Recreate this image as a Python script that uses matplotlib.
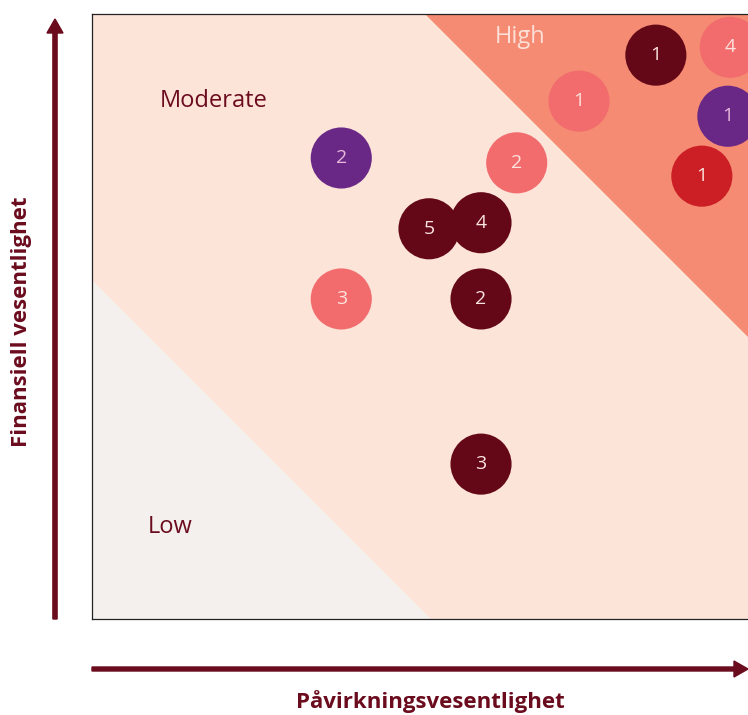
import matplotlib
matplotlib.use("Agg")
import matplotlib.pyplot as plt
from matplotlib.patches import Circle, Polygon, FancyArrow

# ---- data ----
impact = [4.12, 8.05, 9.32, 10.55, 10.51, 10.08, 7.02, 5.57, 6.43, 4.12, 6.43, 6.43]
financial = [7.62, 8.56, 9.32, 9.45, 8.31, 7.32, 7.54, 6.45, 6.55, 5.29, 5.29, 2.56]
labels = ["2", "1", "1", "4", "1", "1", "2", "5", "4", "3", "2", "3"]
groups = ["purple", "pink", "dark", "pink", "purple", "red", "pink", "dark", "dark", "pink", "dark", "dark"]

low_limit = 5.6     # x + y below this -> Low
high_limit = 15.5   # x + y above this -> High
zone_names = ["Low", "Moderate", "High"]
x_title = "Påvirkningsvesentlighet"
y_title = "Finansiell vesentlighet"

# ---- styles ----
fill = {"dark": "#640818", "pink": "#f26c6e", "purple": "#6a2886", "red": "#cc1e25"}
txtc = {"dark": "#fbe3e0", "pink": "#fde3dd", "purple": "#e6b8dc", "red": "#fde3dd"}
maroon = "#6b0c1e"
plt.rcParams["font.family"] = ["Open Sans", "DejaVu Sans"]

W, H = 748, 715
fig = plt.figure(figsize=(W / 100, H / 100), dpi=100)
unit = 60.5
xmax, ymax = 12, 10
ax = fig.add_axes([92 / W, 96 / H, xmax * unit / W, ymax * unit / H])
ax.set_xlim(0, xmax)
ax.set_ylim(0, ymax)
ax.set_facecolor("#fde4d9")
ax.set_xticks([])
ax.set_yticks([])
for s in ax.spines.values():
    s.set_linewidth(0.9)
    s.set_color("#222222")

ax.add_patch(Polygon([(0, 0), (0, low_limit), (low_limit, 0)], closed=True,
                     facecolor="#f4f0ed", edgecolor="none", zorder=1))
ax.add_patch(Polygon([(high_limit - ymax, ymax), (xmax, ymax), (xmax, high_limit - xmax)],
                     closed=True, facecolor="#f48b72", edgecolor="none", zorder=1))

ax.text(0.92, 1.52, zone_names[0], fontsize=17, color=maroon, va="center", ha="left", zorder=2)
ax.text(1.12, 8.57, zone_names[1], fontsize=17, color=maroon, va="center", ha="left", zorder=2)
ax.text(7.07, 9.62, zone_names[2], fontsize=17, color="#fde0d8", va="center", ha="center", zorder=2)

for x, y, lab, g in zip(impact, financial, labels, groups):
    ax.add_patch(Circle((x, y), 0.505, facecolor=fill[g], edgecolor="none", zorder=3))
    ax.text(x, y, lab, fontsize=14, color=txtc[g], ha="center", va="center", zorder=4)

# axis arrows
fig.patches.append(FancyArrow(55 / W, 96 / H, 0, 600 / H, width=4 / H,
                   head_width=16 / W, head_length=14 / H, length_includes_head=True,
                   color=maroon, transform=fig.transFigure, figure=fig))
fig.patches.append(FancyArrow(92 / W, 46 / H, 656 / W, 0, width=4 / H,
                   head_width=16 / H, head_length=14 / W, length_includes_head=True,
                   color=maroon, transform=fig.transFigure, figure=fig))

fig.text(430 / W, 13 / H, x_title, fontsize=16, fontweight="bold", color=maroon,
         ha="center", va="center")
fig.text(22 / W, (H - 322) / H, y_title, fontsize=16, fontweight="bold", color=maroon,
         ha="center", va="center", rotation=90)

fig.savefig("out.png", dpi=100)
